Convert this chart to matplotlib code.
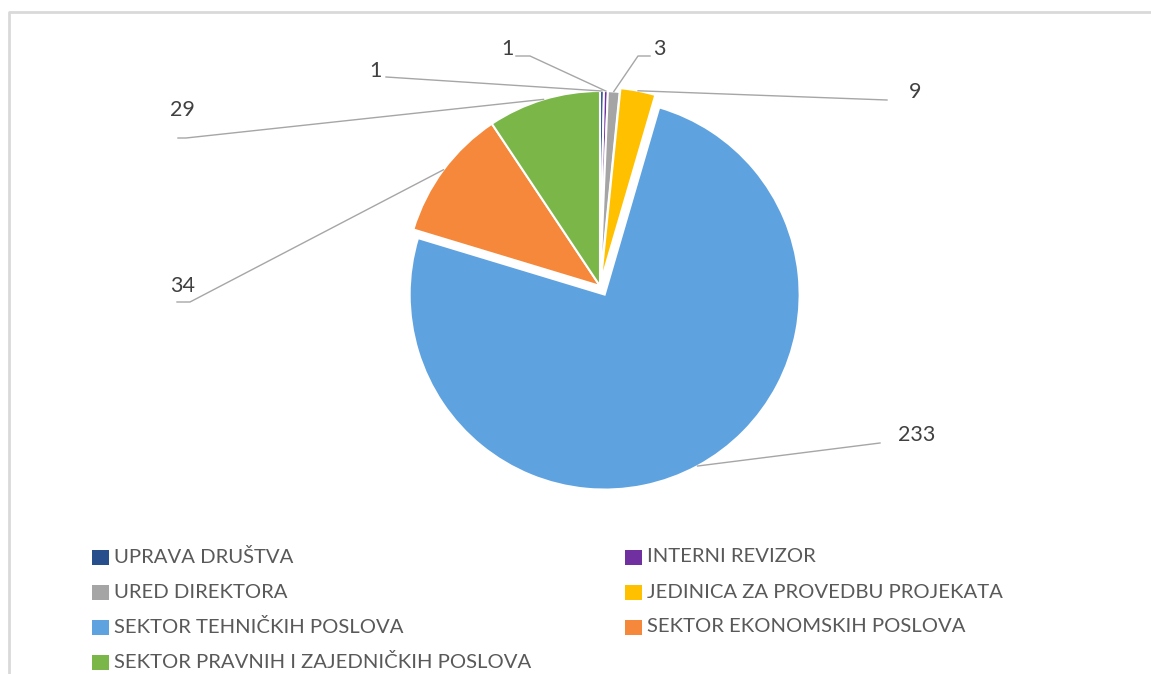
import numpy as np
import matplotlib
matplotlib.use("Agg")
import matplotlib.pyplot as plt
from matplotlib.patches import Rectangle

# ---- data ----
categories = ["UPRAVA DRUŠTVA", "INTERNI REVIZOR", "URED DIREKTORA",
              "JEDINICA ZA PROVEDBU PROJEKATA", "SEKTOR TEHNIČKIH POSLOVA",
              "SEKTOR EKONOMSKIH POSLOVA", "SEKTOR PRAVNIH I ZAJEDNIČKIH POSLOVA"]
values = [1, 1, 3, 9, 233, 34, 29]
colors = ["#264F8C", "#7030A0", "#A5A5A5", "#FFC000", "#5FA2E0", "#F5883A", "#7AB648"]
explode_frac = [0.0, 0.0, 0.0, 0.02, 0.05, 0.0, 0.0]

W, H = 1151, 674
plt.rcParams['font.family'] = ['Lato', 'DejaVu Sans']

fig = plt.figure(figsize=(W / 100, H / 100), dpi=100)
ax = fig.add_axes([0, 0, 1, 1])

def P(x, y):
    return (x, H - y)

cx, cy, R = 600, 286, 195
wedges, _ = ax.pie(values, colors=colors, startangle=90, counterclock=False,
                   radius=R, center=P(cx, cy), explode=[e * R for e in explode_frac],
                   wedgeprops=dict(edgecolor="white", linewidth=1.5))
ax.set_xlim(0, W)
ax.set_ylim(0, H)
ax.set_aspect("equal")
ax.axis("off")

# data label layout: (text position, leader path points before anchor)
label_layout = [
    ((375, 71), [(386, 77)]),
    ((507, 49), [(516, 56), (530, 56)]),
    ((659, 49), [(650, 56), (638, 56)]),
    ((915, 92), [(887, 100)]),
    ((917, 435), [(880, 443)]),
    ((183, 286), [(177, 302), (190, 302)]),
    ((182, 110), [(178, 138), (186, 138)]),
]

line_col = "#A6A6A6"
for w, v, (tpos, pts) in zip(wedges, values, label_layout):
    mid = np.deg2rad((w.theta1 + w.theta2) / 2)
    ax_x = w.center[0] + w.r * np.cos(mid)
    ax_y = w.center[1] + w.r * np.sin(mid)
    xs = [P(*p)[0] for p in pts] + [ax_x]
    ys = [P(*p)[1] for p in pts] + [ax_y]
    ax.plot(xs, ys, color=line_col, lw=1.0, zorder=1)
    ax.text(*P(*tpos), str(v), ha="center", va="center", fontsize=15.5,
            color="#404040")

# legend (row-major, 2 columns)
col_x = [92, 625]
row_y = [557, 592, 627, 662]
for i, (name, c) in enumerate(zip(categories, colors)):
    col, row = i % 2, i // 2
    x0, y0 = col_x[col], row_y[row]
    ax.add_patch(Rectangle(P(x0, y0 + 8), 17, 15, facecolor=c,
                           edgecolor="none"))
    ax.text(*P(x0 + 22, y0), name, ha="left", va="center", fontsize=14.6,
            color="#595959")

# chart frame (top and left edges visible)
ax.plot([9, 9, W], [0, H - 12, H - 12], color="#D9D9D9", lw=2, clip_on=False)

fig.savefig("out.png", dpi=100)
